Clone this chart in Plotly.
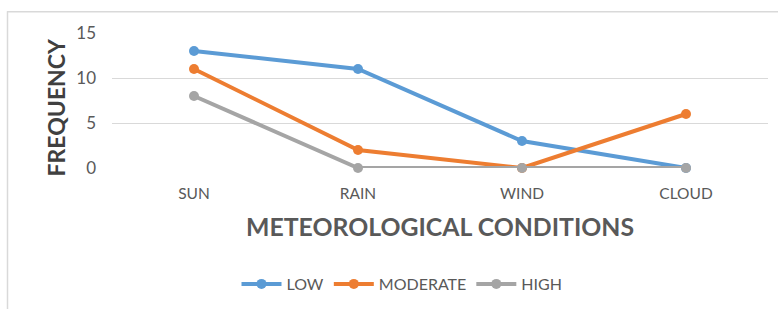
import plotly.graph_objects as go

categories = ["SUN", "RAIN", "WIND", "CLOUD"]
low = [13, 11, 3, 0]
moderate = [11, 2, 0, 6]
high = [8, 0, 0, 0]
y_ticks = [0, 5, 10, 15]

series = [("LOW", low, "#5B9BD5"), ("MODERATE", moderate, "#ED7D31"), ("HIGH", high, "#A5A5A5")]

W, H = 778, 309
L, R, T, B = 112, 10, 33, 140
pw = W - L - R
ph = H - T - B

def px_x(x):
    return (x - L) / pw

def px_y(y):
    return (H - B - y) / ph

fig = go.Figure()
for name, vals, col in series:
    fig.add_trace(go.Scatter(
        x=categories, y=vals, name=name, mode="lines+markers",
        line=dict(color=col, width=4), marker=dict(color=col, size=10),
        cliponaxis=False,
    ))

font = "Lato"
fig.update_layout(
    width=W, height=H,
    margin=dict(l=L, r=R, t=T, b=B, pad=0),
    paper_bgcolor="white", plot_bgcolor="white",
    font=dict(family=font, color="#595959", size=12),
    xaxis=dict(type="category", range=[-0.5, 3.5], showgrid=False, showline=False,
               zeroline=False, ticks="", tickfont=dict(size=15.5, color="#595959"),
               ticklabelstandoff=14),
    yaxis=dict(range=[0, 15], tickvals=y_ticks, showgrid=True, gridcolor="#D9D9D9",
               gridwidth=1, zeroline=False, showline=False, ticks="",
               tickfont=dict(size=17, color="#595959"), ticklabelstandoff=15),
    showlegend=True,
    legend=dict(orientation="h", x=px_x(402), xanchor="center", y=px_y(284), yanchor="middle",
                font=dict(size=16, color="#595959"), itemwidth=40, traceorder="normal"),
    annotations=[
        dict(text="<b>METEOROLOGICAL CONDITIONS</b>", xref="paper", yref="paper",
             x=px_x(440), y=px_y(228), xanchor="center", yanchor="middle", showarrow=False,
             font=dict(size=24.8, color="#595959", family=font)),
        dict(text="<b>FREQUENCY</b>", xref="paper", yref="paper",
             x=px_x(56), y=px_y(108), xanchor="center", yanchor="middle", showarrow=False,
             textangle=-90, font=dict(size=23, color="#404040", family=font)),
    ],
    shapes=[
        dict(type="line", xref="paper", yref="paper", x0=px_x(7), x1=px_x(790),
             y0=px_y(11.5), y1=px_y(11.5), line=dict(color="#D9D9D9", width=1.5)),
        dict(type="line", xref="paper", yref="paper", x0=px_x(7.5), x1=px_x(7.5),
             y0=px_y(11), y1=px_y(320), line=dict(color="#D9D9D9", width=1.5)),
    ],
)

fig.write_html("out.html", config={"displayModeBar": False},
               post_script="document.body.style.margin='0';")
